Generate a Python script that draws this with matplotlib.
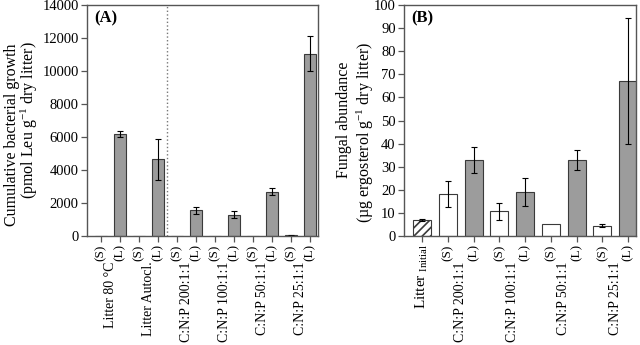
import matplotlib
matplotlib.use("Agg")
import matplotlib.pyplot as plt
import numpy as np

plt.rcParams['font.family'] = ['Liberation Serif', 'DejaVu Serif']
plt.rcParams['mathtext.fontset'] = 'custom'
plt.rcParams['mathtext.rm'] = 'Liberation Serif'
plt.rcParams['mathtext.it'] = 'Liberation Serif:italic'
plt.rcParams['hatch.linewidth'] = 1.2

# Panel A data
a_groups = ["Litter 80 \u00b0C", "Litter Autocl.", "C:N:P 200:1:1", "C:N:P 100:1:1", "C:N:P 50:1:1", "C:N:P 25:1:1"]
a_ticklabels = ["(S)", "(L)"] * 6
a_values = [0, 6200, 0, 4650, 0, 1550, 30, 1300, 0, 2680, 50, 11050]
a_errors = [0, 180, 0, 1250, 0, 230, 0, 230, 0, 200, 20, 1080]

# Panel B data
b_groups = ["C:N:P 200:1:1", "C:N:P 100:1:1", "C:N:P 50:1:1", "C:N:P 25:1:1"]
b_ticklabels = [r"Litter $_{\rm Initial}$", "(S)", "(L)", "(S)", "(L)", "(S)", "(L)", "(S)", "(L)"]
b_values = [7.0, 18.0, 33.0, 10.7, 19.0, 5.0, 33.0, 4.5, 67.0]
b_errors = [0.4, 5.6, 5.7, 3.8, 5.9, 0.0, 4.3, 0.6, 27.3]
b_kinds = ["init", "S", "L", "S", "L", "S", "L", "S", "L"]

GRAY = "#9c9c9c"
EDGE = "#3a3a3a"
SPINE = "#555555"

fig = plt.figure(figsize=(6.4, 3.45), dpi=100)
axA = fig.add_axes([87/640, 1 - 236/345, 231/640, 231/345])
axB = fig.add_axes([404/640, 1 - 236/345, 232/640, 231/345])

def style(ax):
    for s in ax.spines.values():
        s.set_color(SPINE)
        s.set_linewidth(1.0)
    ax.tick_params(axis='y', direction='out', length=4, width=0.9, color=SPINE,
                   labelsize=10.5, pad=2)
    ax.tick_params(axis='x', direction='out', length=4, width=0.9, color=SPINE,
                   labelsize=9.5, pad=2)

# ---- Panel A
xa = np.arange(len(a_values))
colorsA = ["white" if i % 2 == 0 else GRAY for i in xa]
axA.bar(xa, a_values, width=0.66, color=colorsA, edgecolor=EDGE, linewidth=0.8)
for xi, v, e in zip(xa, a_values, a_errors):
    if e > 0:
        axA.errorbar(xi, v, yerr=e, fmt='none', ecolor='black', elinewidth=0.8, capsize=2.5, capthick=0.8)
axA.axvline(3.5, color="#777777", linestyle=':', linewidth=1.0)
axA.set_xlim(-0.73, 11.42)
axA.set_ylim(0, 14000)
axA.set_yticks(np.arange(0, 14001, 2000))
axA.set_xticks(xa)
axA.set_xticklabels(a_ticklabels, rotation=90)
style(axA)
for i, g in enumerate(a_groups):
    axA.text(2*i + 0.5, -0.112, g, rotation=90, ha='center', va='top', fontsize=10,
             transform=axA.get_xaxis_transform())
axA.text(0.03, 0.975, "(A)", transform=axA.transAxes, ha='left', va='top',
         fontsize=12, fontweight='bold')
fig.text(12/640, 1 - 135/345, "Cumulative bacterial growth", rotation=90, ha='center', va='center', fontsize=11.5)
fig.text(29/640, 1 - 120/345, "(pmol Leu g$^{\\mathrm{-1}}$ dry litter)", rotation=90, ha='center', va='center', fontsize=11.5)

# ---- Panel B
xb = np.arange(len(b_values))
for xi, v, e, k in zip(xb, b_values, b_errors, b_kinds):
    if k == "init":
        axB.bar(xi, v, width=0.7, color="white", edgecolor=EDGE, linewidth=0.8, hatch='////')
    elif k == "S":
        axB.bar(xi, v, width=0.7, color="white", edgecolor=EDGE, linewidth=0.8)
    else:
        axB.bar(xi, v, width=0.7, color=GRAY, edgecolor=EDGE, linewidth=0.8)
    if e > 0:
        axB.errorbar(xi, v, yerr=e, fmt='none', ecolor='black', elinewidth=0.8, capsize=2.5, capthick=0.8)
axB.set_xlim(-0.7, 8.31)
axB.set_ylim(0, 100)
axB.set_yticks(np.arange(0, 101, 10))
axB.set_xticks(xb)
axB.set_xticklabels(b_ticklabels, rotation=90)
style(axB)
axB.get_xticklabels()[0].set_fontsize(11)
for i, g in enumerate(b_groups):
    axB.text(2*i + 1.5, -0.112, g, rotation=90, ha='center', va='top', fontsize=10,
             transform=axB.get_xaxis_transform())
axB.text(0.03, 0.975, "(B)", transform=axB.transAxes, ha='left', va='top',
         fontsize=12, fontweight='bold')
fig.text(344/640, 1 - 120/345, "Fungal abundance", rotation=90, ha='center', va='center', fontsize=11.5)
fig.text(365/640, 1 - 132/345, "(\u00b5g ergosterol g$^{\\mathrm{-1}}$ dry litter)", rotation=90, ha='center', va='center', fontsize=11.5)

fig.savefig("out.png", dpi=100)
